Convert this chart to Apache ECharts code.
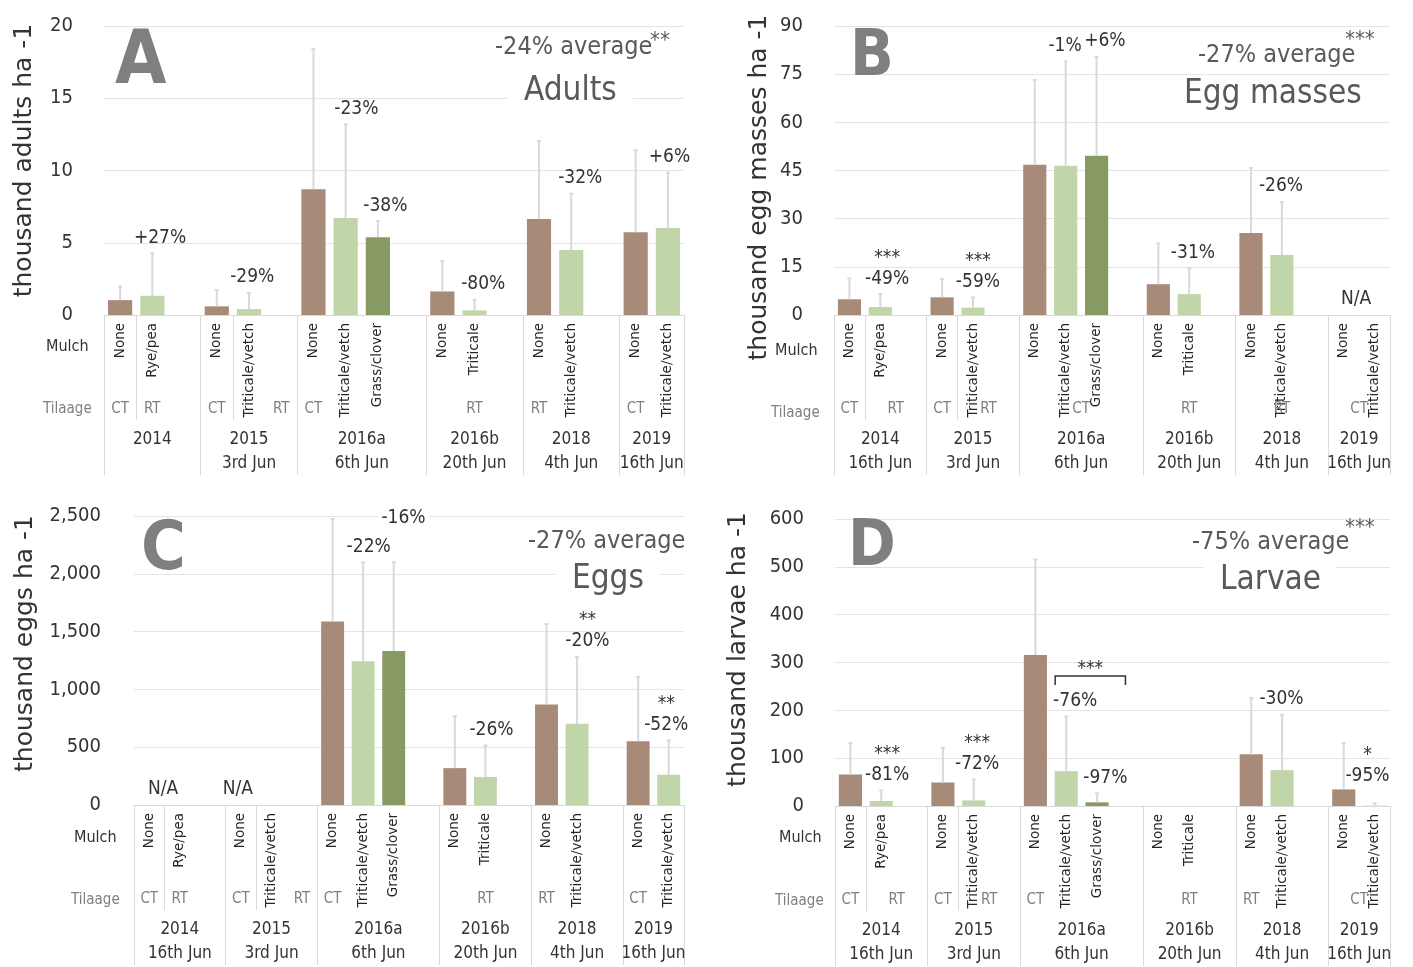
<!DOCTYPE html>
<html>
<head>
<meta charset="utf-8">
<script src="https://cdn.jsdelivr.net/npm/echarts@6/dist/echarts.min.js"></script>
<style>
  html, body { margin: 0; background: #fff; }
  #chart { width: 1413px; height: 967px; }
</style>
</head>
<body>
<div id="chart"></div>
<script>
// x layout shared by the four panels: 18 slots in 6 year groups
const years = ['2014', '2015', '2016a', '2016b', '2018', '2019'];
const groupSize = [3, 3, 4, 3, 3, 2];
const innerSeparators = [1, 4];
const mulch = ['None', 'Rye/pea', '', 'None', 'Triticale/vetch', '', 'None', 'Triticale/vetch', 'Grass/clover', '',
  'None', 'Triticale', '', 'None', 'Triticale/vetch', '', 'None', 'Triticale/vetch'];
const datesA = ['', '3rd Jun', '6th Jun', '20th Jun', '4th Jun', '16th Jun'];
const datesBCD = ['16th Jun', '3rd Jun', '6th Jun', '20th Jun', '4th Jun', '16th Jun'];

// tillage per slot (equal neighbours inside a year are merged into one label)
const tillageA = ['CT', 'RT', '', 'CT', '', 'RT', 'CT', '', '', '', '', 'RT', '', 'RT', '', '', 'CT', ''];
const tillageB = ['CT', 'RT', 'RT', 'CT', 'RT', 'RT', 'CT', 'CT', 'CT', 'CT', 'RT', 'RT', 'RT', 'RT', 'RT', 'RT', 'CT', 'CT'];
const tillageC = ['CT', 'RT', '', 'CT', '', 'RT', 'CT', '', '', '', 'RT', 'RT', 'RT', 'RT', '', '', 'CT', ''];
const tillageD = ['CT', 'RT', 'RT', 'CT', 'RT', 'RT', 'CT', '', '', '', 'RT', 'RT', 'RT', 'RT', '', '', 'CT', 'CT'];

// A: adults
const meanA = [1.03, 1.33, null, 0.6, 0.41, null, 8.71, 6.71, 5.38, null, 1.63, 0.32, null, 6.64, 4.5, null, 5.72, 6.02];
const errA = [0.95, 2.95, null, 1.12, 1.11, null, 9.69, 6.49, 1.12, null, 2.09, 0.74, null, 5.41, 3.89, null, 5.68, 3.84];
// B: egg masses
const meanB = [4.9, 2.5, null, 5.5, 2.3, null, 46.8, 46.5, 49.6, null, 9.6, 6.5, null, 25.5, 18.7, null, null, null];
const errB = [6.5, 4.0, null, 5.7, 3.2, null, 26.4, 32.5, 30.8, null, 12.7, 8.0, null, 20.3, 16.5, null, null, null];
// C: eggs
const meanC = [null, null, null, null, null, null, 1588, 1243, 1332, null, 319, 242, null, 869, 702, null, 552, 262];
const errC = [null, null, null, null, null, null, 886, 857, 768, null, 449, 273, null, 696, 578, null, 558, 296];
// D: larvae
const meanD = [65.9, 10.4, null, 49.2, 11.8, null, 315.6, 72.8, 7.6, null, null, null, null, 108, 75, null, 34.7, 0.7];
const errD = [65.9, 22.2, null, 72.8, 43.7, null, 199.4, 114.2, 18.8, null, null, null, null, 118, 115.7, null, 97.1, 4.8];

// annotations: [slot position, text, anchor value if not the error bar top, boxed]
const notesA = [[1.74, '+27%'], [4.6, '-29%'], [7.83, '-23%'], [8.73, '-38%'], [11.77, '-80%'], [14.78, '-32%'], [17.55, '+6%']];
const notesB = [[1.72, '***\n-49%'], [4.66, '***\n-59%'], [7.48, '-1%'], [8.77, '+6%'], [11.62, '-31%'], [14.47, '-26%'], [16.9, 'N/A', 0]];
const notesC = [[0.95, 'N/A', 0], [3.4, 'N/A', 0], [7.68, '-22%'], [8.82, '-16%', 2350, true], [11.7, '-26%'], [14.84, '**\n-20%'], [17.42, '**\n-52%']];
const notesD = [[1.69, '***\n-81%'], [4.61, '***\n-72%'], [7.79, '-76%'], [8.77, '-97%'], [14.48, '-30%'], [17.27, '*\n-95%', 31]];
const bracketD = [7.14, 9.42, 272, '***'];

const BROWN = '#a88a79', LIGHT = '#c1d6a8', DARK = '#879a62';
const COND = "'DejaVu Sans Condensed', 'DejaVu Sans', sans-serif";
const INK = '#333333', GREY = '#7f7f7f', RULE = '#d9d9d9', TITLE = '#595959';

const panels = [
  { mean: meanA, err: errA, notes: notesA, tillage: tillageA, dates: datesA, max: 20, step: 5,
    yName: 'thousand adults ha -1', left: 104, top: 26, width: 580, nameGap: 67, namePad: [0, 0, 0, 20],
    letter: 'A', letterPos: [115, 27, 74], avg: '-24% average', avgPos: [495, 35], stars: '**', starsPos: [650, 30],
    label: 'Adults', labelPos: [508, 75], mulchPos: [46, 339], tilPos: [43, 402] },
  { mean: meanB, err: errB, notes: notesB, tillage: tillageB, dates: datesBCD, max: 90, step: 15,
    yName: 'thousand egg masses ha -1', left: 834, top: 26, width: 556, nameGap: 62, namePad: [0, 34, 0, 0],
    letter: 'B', letterPos: [850, 26, 64], avg: '-27% average', avgPos: [1198, 43], stars: '***', starsPos: [1345, 29],
    label: 'Egg masses', labelPos: [1168, 78], mulchPos: [775, 343], tilPos: [771, 406] },
  { mean: meanC, err: errC, notes: notesC, tillage: tillageC, dates: datesBCD, max: 2500, step: 500,
    yName: 'thousand eggs ha -1', left: 134, top: 516, width: 550, nameGap: 96, namePad: [0, 0, 0, 34],
    letter: 'C', letterPos: [141, 517, 68], avg: '-27% average', avgPos: [528, 529], stars: '', starsPos: [0, 0],
    label: 'Eggs', labelPos: [556, 563], mulchPos: [74, 830], tilPos: [71, 893] },
  { mean: meanD, err: errD, notes: notesD, tillage: tillageD, dates: datesBCD, max: 600, step: 100,
    yName: 'thousand larvae ha -1', left: 835, top: 519, width: 555, nameGap: 84, namePad: [0, 0, 0, 26],
    letter: 'D', letterPos: [848, 516, 64], avg: '-75% average', avgPos: [1192, 530], stars: '***', starsPos: [1345, 517],
    label: 'Larvae', labelPos: [1204, 564], mulchPos: [779, 830], tilPos: [775, 894], bracket: bracketD }
];

const groupStarts = [];
groupSize.reduce((s, n) => { groupStarts.push(s); return s + n; }, 0);

// labels on a half-slot axis (37 positions, boundaryGap false)
function tillageLabels(tillage) {
  const out = new Array(37).fill('');
  groupStarts.forEach((start, g) => {
    let i = start;
    const end = start + groupSize[g];
    while (i < end) {
      if (!tillage[i]) { i++; continue; }
      let j = i;
      while (j + 1 < end && tillage[j + 1] === tillage[i]) j++;
      out[i + j + 1] = tillage[i];
      i = j + 1;
    }
  });
  return out;
}
function yearLabels(dates) {
  const out = new Array(37).fill('');
  groupStarts.forEach((start, g) => {
    out[2 * start + groupSize[g]] = years[g] + (dates[g] ? '\n' + dates[g] : '');
  });
  return out;
}
const colorOf = name => name === 'None' ? BROWN : (name === 'Grass/clover' ? DARK : LIGHT);

const option = { backgroundColor: '#fff', animation: false, grid: [], xAxis: [], yAxis: [], series: [], title: [] };

panels.forEach((p, k) => {
  option.grid.push({ left: p.left, top: p.top, width: p.width, height: 289 });
  option.yAxis.push({
    type: 'value', gridIndex: k, min: 0, max: p.max, interval: p.step,
    name: p.yName, nameLocation: 'middle', nameRotate: 90, nameGap: p.nameGap,
    nameTextStyle: { fontFamily: 'DejaVu Sans', fontSize: 25, color: INK, padding: p.namePad },
    axisLine: { show: false }, axisTick: { show: false },
    axisLabel: { margin: k === 2 ? 33 : 31, color: INK, fontFamily: COND, fontSize: 20 },
    splitLine: { lineStyle: { color: '#e4e4e4', width: 1 } }
  });
  const xi = option.xAxis.length;
  option.xAxis.push({
    type: 'category', gridIndex: k, position: 'bottom', data: mulch,
    axisLine: { lineStyle: { color: RULE } },
    axisTick: { show: true, length: 160, interval: i => groupStarts.includes(i), lineStyle: { color: RULE } },
    axisLabel: { interval: 0, rotate: 90, margin: 8, fontFamily: 'DejaVu Sans', fontSize: 13.5, color: '#262626' }
  });
  option.xAxis.push({
    type: 'category', gridIndex: k, position: 'bottom', data: mulch,
    axisLine: { show: false }, axisLabel: { show: false },
    axisTick: { show: true, length: 105, interval: i => innerSeparators.includes(i), lineStyle: { color: RULE } }
  });
  option.xAxis.push({
    type: 'category', gridIndex: k, position: 'bottom', boundaryGap: false, data: tillageLabels(p.tillage),
    axisLine: { show: false }, axisTick: { show: false },
    axisLabel: { interval: 0, margin: 87, fontFamily: COND, fontSize: 15, color: GREY }
  });
  option.xAxis.push({
    type: 'category', gridIndex: k, position: 'bottom', boundaryGap: false, data: yearLabels(p.dates),
    axisLine: { show: false }, axisTick: { show: false },
    axisLabel: { interval: 0, margin: 113, fontFamily: COND, fontSize: 17, lineHeight: 24, color: INK }
  });

  option.series.push({
    type: 'bar', xAxisIndex: xi, yAxisIndex: k, barWidth: '75%',
    data: p.mean.map((v, i) => v == null ? null : { value: v, itemStyle: { color: colorOf(mulch[i]) } })
  });
  // error bars (upper only)
  option.series.push({
    type: 'custom', xAxisIndex: xi, yAxisIndex: k, z: 3,
    data: p.mean.map((v, i) => [i, v == null ? 0 : v + (p.err[i] || 0)]),
    renderItem: (params, api) => {
      const i = params.dataIndex;
      if (p.mean[i] == null || p.err[i] == null) return null;
      const lo = api.coord([i, p.mean[i]]);
      const hi = api.coord([i, p.mean[i] + p.err[i]]);
      return { type: 'group', children: [
        { type: 'line', shape: { x1: lo[0], y1: lo[1], x2: hi[0], y2: hi[1] }, style: { stroke: RULE, lineWidth: 2 } },
        { type: 'line', shape: { x1: hi[0] - 2, y1: hi[1], x2: hi[0] + 2, y2: hi[1] }, style: { stroke: RULE, lineWidth: 2 } }
      ] };
    }
  });
  // percentage notes
  option.series.push({
    type: 'custom', xAxisIndex: xi, yAxisIndex: k, z: 4,
    data: p.notes.map(n => [Math.floor(n[0]), 0]),
    renderItem: (params, api) => {
      const n = p.notes[params.dataIndex];
      const s = Math.min(17, Math.floor(n[0]));
      const anchor = n[2] != null ? n[2] : p.mean[s] + p.err[s];
      const p0 = api.coord([0, anchor]);
      const bw = api.size([1, 0])[0];
      return {
        type: 'text', x: p0[0] - bw / 2 + n[0] * bw, y: p0[1] - 5,
        style: {
          text: n[1], fill: INK, fontFamily: COND, fontSize: 19, lineHeight: 21,
          align: 'center', verticalAlign: 'bottom',
          backgroundColor: n[3] ? '#fff' : null, padding: [0, 3]
        }
      };
    }
  });
  if (p.bracket) {
    const b = p.bracket;
    option.series.push({
      type: 'custom', xAxisIndex: xi, yAxisIndex: k, z: 4,
      data: [[Math.floor(b[0]), b[2]]],
      renderItem: (params, api) => {
        const p0 = api.coord([0, b[2]]);
        const bw = api.size([1, 0])[0];
        const x1 = p0[0] - bw / 2 + b[0] * bw, x2 = p0[0] - bw / 2 + b[1] * bw;
        return { type: 'group', children: [
          { type: 'polyline', shape: { points: [[x1, p0[1] + 9], [x1, p0[1]], [x2, p0[1]], [x2, p0[1] + 9]] },
            style: { stroke: INK, lineWidth: 1.5, fill: null } },
          { type: 'text', x: (x1 + x2) / 2, y: p0[1] + 3,
            style: { text: b[3], fill: INK, fontFamily: COND, fontSize: 19, align: 'center', verticalAlign: 'bottom' } }
        ] };
      }
    });
  }

  option.title.push(
    { text: p.letter, left: p.letterPos[0], top: p.letterPos[1], padding: 0,
      textStyle: { fontFamily: COND, fontWeight: 'bold', fontSize: p.letterPos[2], color: GREY } },
    { text: p.avg, left: p.avgPos[0], top: p.avgPos[1], padding: 0,
      textStyle: { fontFamily: COND, fontWeight: 'normal', fontSize: 25, color: TITLE } },
    { text: p.label, left: p.labelPos[0], top: p.labelPos[1], padding: [0, 16], backgroundColor: '#fff',
      textStyle: { fontFamily: COND, fontWeight: 'normal', fontSize: 33, color: TITLE } },
    { text: 'Mulch', left: p.mulchPos[0], top: p.mulchPos[1], padding: 0,
      textStyle: { fontFamily: COND, fontWeight: 'normal', fontSize: 16, color: INK } },
    { text: 'Tilaage', left: p.tilPos[0], top: p.tilPos[1], padding: 0,
      textStyle: { fontFamily: COND, fontWeight: 'normal', fontSize: 15, color: GREY } }
  );
  if (p.stars) {
    option.title.push({ text: p.stars, left: p.starsPos[0], top: p.starsPos[1], padding: 0,
      textStyle: { fontFamily: COND, fontWeight: 'normal', fontSize: 22, color: TITLE } });
  }
});

const chart = echarts.init(document.getElementById('chart'));
chart.setOption(option);
</script>
</body>
</html>
